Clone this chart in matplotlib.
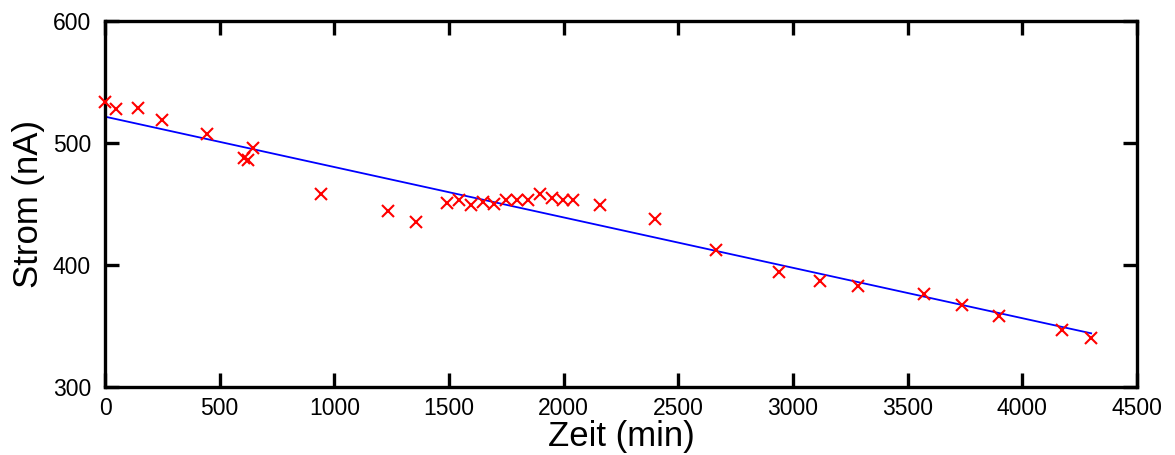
import matplotlib
matplotlib.use("Agg")
import matplotlib.pyplot as plt

plt.rcParams['font.family'] = ['Liberation Sans', 'DejaVu Sans']

zeit = [0, 48, 145, 247, 446, 606, 625, 647, 942, 1234, 1356,
        1491, 1545, 1596, 1647, 1698, 1749, 1795, 1843, 1897, 1948,
        1999, 2042, 2159, 2399, 2665, 2941, 3118, 3285, 3572, 3737,
        3900, 4175, 4300]
strom = [533.9, 527.9, 528.4, 518.9, 507.1, 487.4, 486.0, 496.0, 458.0, 444.0, 435.0,
         450.6, 453.3, 449.2, 451.9, 449.8, 453.3, 453.3, 453.3, 458.0, 455.2,
         453.3, 453.3, 449.2, 437.7, 412.3, 394.5, 387.1, 382.8, 376.0, 367.2,
         358.2, 346.7, 340.0]
fit_x = [0, 4300]
fit_y = [521.6, 344.0]

xticks = [0, 500, 1000, 1500, 2000, 2500, 3000, 3500, 4000, 4500]
yticks = [300, 400, 500, 600]

fig = plt.figure(figsize=(11.75, 4.55), dpi=100)
ax = fig.add_axes([105/1175, 68/455, (1137-105)/1175, (387-21)/455])

ax.plot(fit_x, fit_y, color='#0000ff', lw=1.3, zorder=2)
ax.plot(zeit, strom, linestyle='none', marker='x', color='#ff0000',
        markersize=9, markeredgewidth=1.5, clip_on=False, zorder=3)

ax.set_xlim(0, 4500)
ax.set_ylim(300, 600)
ax.set_xticks(xticks)
ax.set_yticks(yticks)
ax.tick_params(direction='in', length=10, width=2.4, labelsize=16.5,
               top=True, right=True)
ax.tick_params(axis='x', pad=7)
ax.tick_params(axis='y', pad=10)
for s in ax.spines.values():
    s.set_linewidth(2.4)

ax.set_xlabel('Zeit (min)', fontsize=25, labelpad=0)
ax.set_ylabel('Strom (nA)', fontsize=25, labelpad=6)

fig.savefig('out.png', dpi=100)
